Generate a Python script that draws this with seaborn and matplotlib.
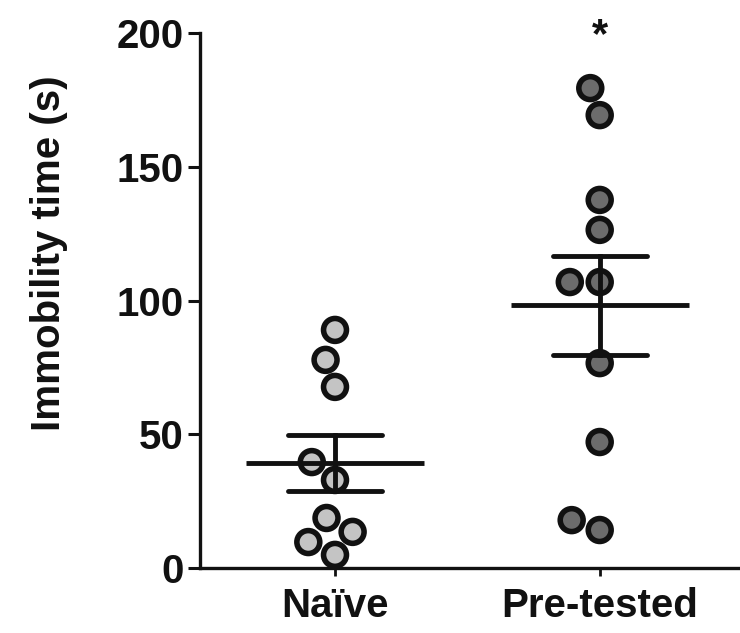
import matplotlib
matplotlib.use("Agg")
import matplotlib.pyplot as plt
import seaborn as sns
import numpy as np
import pandas as pd

categories = ["Naïve", "Pre-tested"]
naive_values = [89.0, 77.8, 67.7, 39.6, 32.9, 18.7, 13.5, 9.7, 4.9]
pretested_values = [179.4, 169.3, 137.6, 126.4, 106.9, 106.9, 76.6, 47.1, 14.2, 17.9]
y_ticks = [0, 50, 100, 150, 200]
y_label = "Immobility time (s)"
significance = "*"

df = pd.DataFrame({
    "group": [categories[0]] * len(naive_values) + [categories[1]] * len(pretested_values),
    "value": naive_values + pretested_values,
})

sns.set_theme(style="ticks")
plt.rcParams["font.family"] = ["Liberation Sans", "DejaVu Sans"]
plt.rcParams["font.weight"] = "bold"

fig = plt.figure(figsize=(7.4, 6.33), dpi=100)
ax = fig.add_axes([200 / 740, 1 - 568 / 633, 540 / 740, 535 / 633])

palette = {categories[0]: "#c4c4c4", categories[1]: "#6c6c6c"}
sns.swarmplot(data=df, x="group", y="value", hue="group", palette=palette,
              order=categories, size=16.5, linewidth=4, edgecolor="#111111",
              legend=False, ax=ax, zorder=3)
for coll in ax.collections:
    coll.set_clip_on(False)

sns.pointplot(data=df, x="group", y="value", order=categories, errorbar="se",
              color="#111111", markers="_", linestyle="none", capsize=0.355,
              markersize=128, markeredgewidth=3.5,
              err_kws={"linewidth": 3.5}, ax=ax, zorder=4)
for ln in ax.lines:
    ln.set_clip_on(False)

ax.set_xlim(-0.51, 1.53)
ax.set_ylim(0, 200)
ax.set_yticks(y_ticks)
ax.set_xlabel("")
ax.set_ylabel(y_label, fontsize=29, fontweight="bold", color="#111111")
ax.yaxis.set_label_coords(-0.245, 0.589)

for side in ["top", "right"]:
    ax.spines[side].set_visible(False)
for side in ["left", "bottom"]:
    ax.spines[side].set_linewidth(2.4)
    ax.spines[side].set_color("#111111")

ax.tick_params(axis="y", length=9, width=2.2, pad=3, labelsize=29, colors="#111111")
ax.tick_params(axis="x", length=6, width=2.0, pad=8, labelsize=29, colors="#111111")
for lab in ax.get_xticklabels() + ax.get_yticklabels():
    lab.set_fontweight("bold")

ax.text(1, 199, significance, ha="center", va="center", fontsize=30,
        fontweight="bold", color="#111111", clip_on=False)

fig.savefig("out.png", dpi=100, facecolor="white")
